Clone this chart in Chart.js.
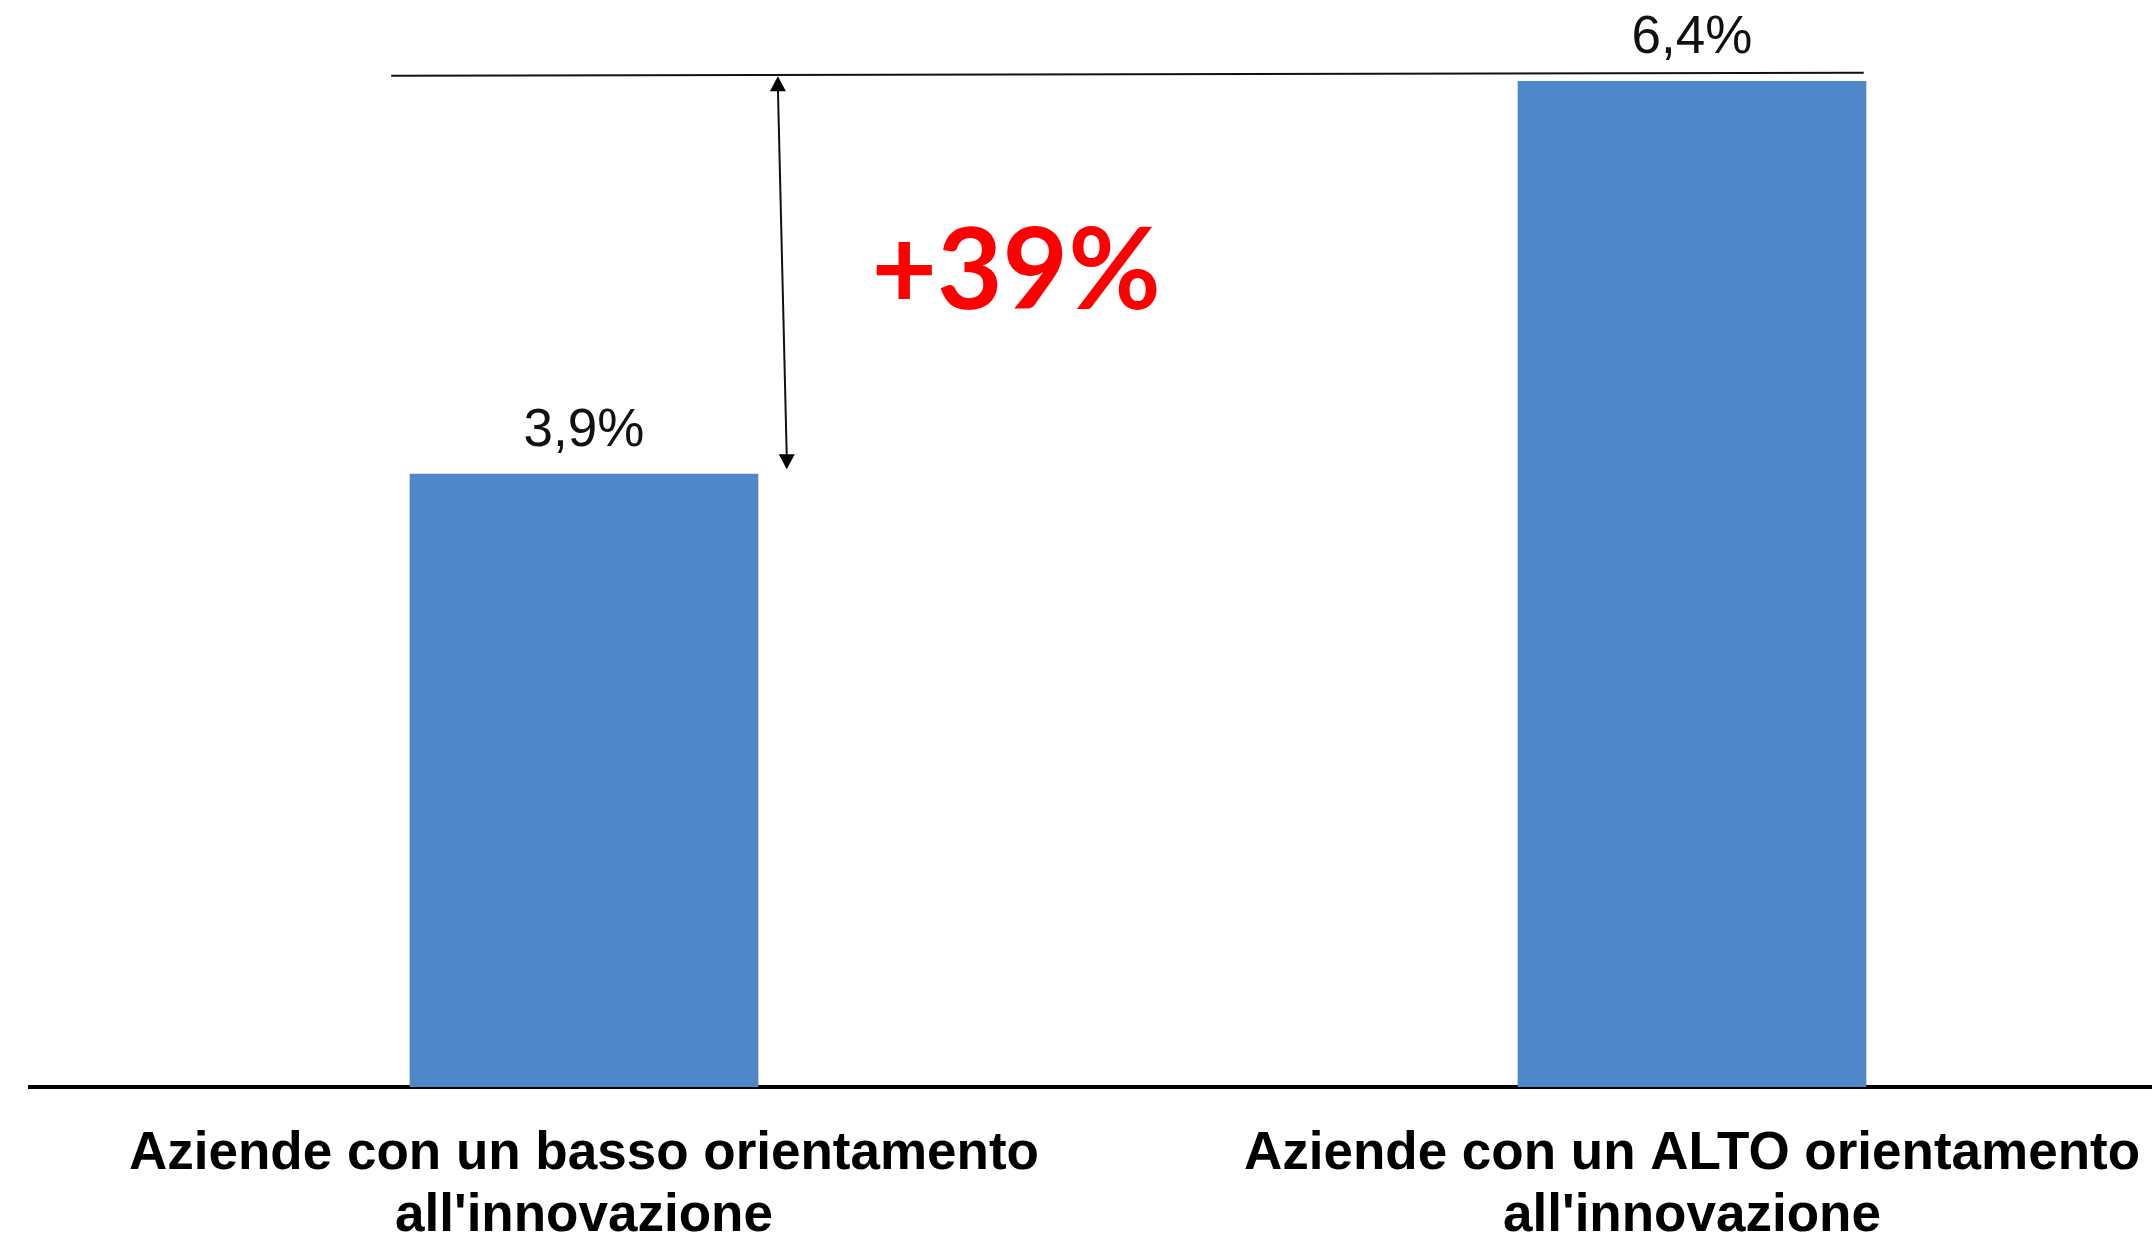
<!DOCTYPE html>
<html>
<head>
<meta charset="utf-8">
<script src="https://cdn.jsdelivr.net/npm/chart.js@4.4.1/dist/chart.umd.min.js"></script>
<style>
  html, body { margin: 0; padding: 0; background: #fff; overflow: hidden; }
  #wrap { position: relative; width: 2300px; height: 1236px; }
</style>
</head>
<body>
<div id="wrap"><canvas id="chart"></canvas></div>
<script>
// dati
const categories = [
  ['Aziende con un basso orientamento', "all'innovazione"],
  ['Aziende con un ALTO orientamento', "all'innovazione"],
]
const values = [3.9, 6.4]
const valueLabels = ['3,9%', '6,4%']
const deltaLabel = '+39%'

// linea di riferimento e freccia (in coordinate delle scale)
const refLine = { x0: -0.174, x1: 1.155, y: 6.44 }
const arrow = { xTop: 0.175, xBottom: 0.183, yTop: 6.43, yBottom: 3.93 }
const deltaPos = { x: 0.39, y: 5.18 }

const annotations = {
  id: 'annotations',
  afterDatasetsDraw(chart) {
    const ctx = chart.ctx
    const x = chart.scales.x
    const y = chart.scales.y
    const meta = chart.getDatasetMeta(0)

    ctx.save()
    // etichette valori
    ctx.fillStyle = '#111'
    ctx.font = '53px "Liberation Sans", Arial, sans-serif'
    ctx.textAlign = 'center'
    ctx.textBaseline = 'alphabetic'
    meta.data.forEach((bar, i) => {
      ctx.fillText(valueLabels[i], bar.x, bar.y - 28)
    })

    // linea orizzontale
    ctx.strokeStyle = '#111'
    ctx.lineWidth = 2
    ctx.beginPath()
    ctx.moveTo(x.getPixelForValue(refLine.x0), y.getPixelForValue(refLine.y) + 1)
    ctx.lineTo(x.getPixelForValue(refLine.x1), y.getPixelForValue(refLine.y) - 2)
    ctx.stroke()

    // freccia doppia
    const ax0 = x.getPixelForValue(arrow.xTop)
    const ay0 = y.getPixelForValue(arrow.yTop)
    const ax1 = x.getPixelForValue(arrow.xBottom)
    const ay1 = y.getPixelForValue(arrow.yBottom)
    ctx.lineWidth = 2
    ctx.beginPath()
    ctx.moveTo(ax0, ay0 + 12)
    ctx.lineTo(ax1, ay1 - 12)
    ctx.stroke()
    ctx.fillStyle = '#000'
    ctx.beginPath()
    ctx.moveTo(ax0, ay0)
    ctx.lineTo(ax0 - 8, ay0 + 15)
    ctx.lineTo(ax0 + 8, ay0 + 15)
    ctx.closePath()
    ctx.fill()
    ctx.beginPath()
    ctx.moveTo(ax1, ay1)
    ctx.lineTo(ax1 - 8, ay1 - 15)
    ctx.lineTo(ax1 + 8, ay1 - 15)
    ctx.closePath()
    ctx.fill()

    // +39%
    ctx.fillStyle = '#ff0000'
    ctx.font = 'bold 113px Lato, "Open Sans", sans-serif'
    ctx.textAlign = 'center'
    ctx.textBaseline = 'middle'
    ctx.fillText(deltaLabel, x.getPixelForValue(deltaPos.x), y.getPixelForValue(deltaPos.y))
    ctx.restore()
  },
}

const ctx = document.getElementById('chart').getContext('2d')
const chart = new Chart(ctx, {
  type: 'bar',
  data: {
    labels: categories,
    datasets: [
      {
        data: values,
        backgroundColor: '#5087c9',
        borderWidth: 0,
        barThickness: 348,
      },
    ],
  },
  options: {
    responsive: true,
    maintainAspectRatio: false,
    animation: false,
    layout: { padding: { left: 30, right: 54, top: 81, bottom: 0 } },
    plugins: {
      legend: { display: false },
      tooltip: { enabled: false },
    },
    scales: {
      x: {
        grid: { display: false, drawTicks: false },
        border: { display: true, color: '#000', width: 4 },
        ticks: {
          color: '#000',
          padding: 36,
          font: { family: '"Liberation Sans", Arial, sans-serif', size: 53, weight: 'bold', lineHeight: 1.17 },
        },
        afterFit: s => { s.height = 149 },
      },
      y: {
        display: false,
        min: 0,
        max: 6.4,
      },
    },
  },
  plugins: [annotations],
})
</script>
</body>
</html>
